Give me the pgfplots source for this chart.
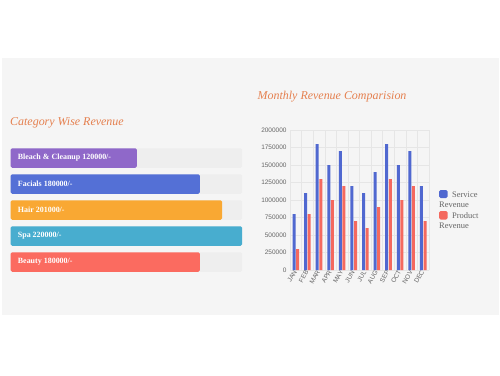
\documentclass[border=0pt]{standalone}
\usepackage{pgfplots}
\pgfplotsset{compat=1.18}
\usepackage{fontspec}
\setmainfont{Liberation Serif}
\newfontfamily\sansf{Liberation Sans}
\definecolor{panel}{HTML}{F5F5F5}
\definecolor{track}{HTML}{EEEEEE}
\definecolor{titleor}{HTML}{E5804F}
\definecolor{cBleach}{HTML}{8F68C9}
\definecolor{cFacials}{HTML}{5470D6}
\definecolor{cHair}{HTML}{F9A833}
\definecolor{cSpa}{HTML}{48ADCF}
\definecolor{cBeauty}{HTML}{FB6B60}
\definecolor{cService}{HTML}{5068D0}
\definecolor{cProduct}{HTML}{F4695F}
\definecolor{tickgray}{HTML}{666666}
\definecolor{gridgray}{HTML}{E6E6E6}
\begin{document}
\begin{tikzpicture}
\begin{scope}[x=1bp,y=1bp]
\fill[white] (0,0) rectangle (500,375);
\fill[panel] (2,375-315) rectangle (499,375-58);
% titles
\node[anchor=base west, inner sep=0, text=titleor, font=\fontsize{12}{14}\selectfont\itshape] at (10,375-125) {Category Wise Revenue};
\node[anchor=base west, inner sep=0, text=titleor, font=\fontsize{12}{14}\selectfont\itshape] at (257.5,375-99.5) {Monthly Revenue Comparision};
\end{scope}
% left chart
\begin{axis}[at={(10.7bp,100bp)}, anchor=south west, scale only axis,
  width=231.3bp, height=130bp, xmin=0, xmax=220000, ymin=-0.5, ymax=4.5,
  hide axis, clip=false]
\addplot[xbar, bar width=19.5bp, bar shift=0pt, fill=track, draw=none, rounded corners=1.5bp]
  coordinates {(220000,0) (220000,1) (220000,2) (220000,3) (220000,4)};
\addplot[xbar, bar width=19.5bp, bar shift=0pt, fill=cBleach, draw=none, rounded corners=1.5bp] coordinates {(120000,4)};
\addplot[xbar, bar width=19.5bp, bar shift=0pt, fill=cFacials, draw=none, rounded corners=1.5bp] coordinates {(180000,3)};
\addplot[xbar, bar width=19.5bp, bar shift=0pt, fill=cHair, draw=none, rounded corners=1.5bp] coordinates {(201000,2)};
\addplot[xbar, bar width=19.5bp, bar shift=0pt, fill=cSpa, draw=none, rounded corners=1.5bp] coordinates {(220000,1)};
\addplot[xbar, bar width=19.5bp, bar shift=0pt, fill=cBeauty, draw=none, rounded corners=1.5bp] coordinates {(180000,0)};
\begin{scope}[every node/.style={anchor=west, inner sep=0, xshift=7bp, text=white, font=\fontsize{8}{9}\selectfont\bfseries}]
\node at (axis cs:0,4) {Bleach \& Cleanup 120000/-};
\node at (axis cs:0,3) {Facials 180000/-};
\node at (axis cs:0,2) {Hair 201000/-};
\node at (axis cs:0,1) {Spa 220000/-};
\node at (axis cs:0,0) {Beauty 180000/-};
\end{scope}
\end{axis}
% right chart
\begin{axis}[at={(290bp,105bp)}, anchor=south west, scale only axis,
  width=139bp, height=140bp,
  xmin=-0.5, xmax=11.5, ymin=0, ymax=2000000,
  xtick={0,...,11},
  xticklabels={JAN,FEB,MAR,APR,MAY,JUN,JUL,AUG,SEP,OCT,NOV,DEC},
  minor xtick={-0.5,0.5,...,11.5},
  ytick={0,250000,500000,750000,1000000,1250000,1500000,1750000,2000000},
  scaled y ticks=false,
  /pgf/number format/assume math mode=true,
  yticklabel style={/pgf/number format/fixed, /pgf/number format/set thousands separator={}},
  tick label style={text=tickgray, font=\sansf\fontsize{6.5}{7}\selectfont},
  xticklabel style={rotate=60, anchor=east, inner sep=1bp},
  major tick length=0pt, minor tick length=0pt,
  ymajorgrids, xminorgrids,
  grid style={gridgray, line width=0.5bp},
  minor grid style={gridgray, line width=0.5bp},
  axis lines=left, axis line style={gridgray, -},
]
\addplot[ybar, bar width=3bp, bar shift=-1.8bp, fill=cService, draw=none] coordinates {
 (0,800000) (1,1100000) (2,1800000) (3,1500000) (4,1700000) (5,1200000)
 (6,1100000) (7,1400000) (8,1800000) (9,1500000) (10,1700000) (11,1200000)};
\addplot[ybar, bar width=3bp, bar shift=1.8bp, fill=cProduct, draw=none] coordinates {
 (0,300000) (1,800000) (2,1300000) (3,1000000) (4,1200000) (5,700000)
 (6,600000) (7,900000) (8,1300000) (9,1000000) (10,1200000) (11,700000)};
\end{axis}
% legend
\begin{scope}[x=1bp,y=1bp]
\fill[cService, rounded corners=1.5bp] (439,375-198) rectangle (447.5,375-190);
\fill[cProduct, rounded corners=1.5bp] (439,375-219.5) rectangle (447.5,375-211);
\begin{scope}[every node/.style={anchor=base west, inner sep=0, text=tickgray, font=\fontsize{8.5}{10}\selectfont}]
\node at (452,375-197.5) {Service};
\node at (439,375-207.5) {Revenue};
\node at (452,375-218.5) {Product};
\node at (439,375-228.5) {Revenue};
\end{scope}
\end{scope}
\end{tikzpicture}
\end{document}
